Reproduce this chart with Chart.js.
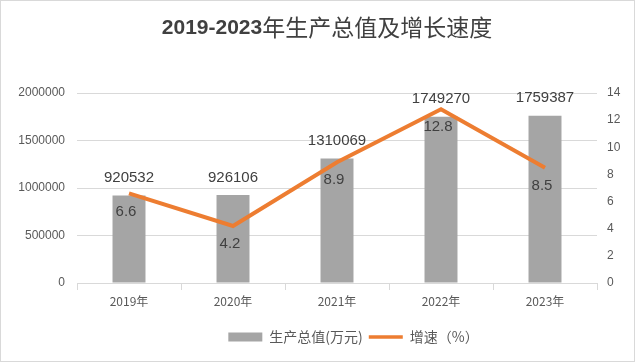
<!DOCTYPE html>
<html>
<head>
<meta charset="utf-8">
<script src="https://cdn.jsdelivr.net/npm/chart.js@4.4.0/dist/chart.umd.min.js"></script>
<style>
html,body{margin:0;padding:0;background:#fff;}
#wrap{position:relative;width:633px;height:360px;border:1px solid #d9d9d9;}
canvas{display:block;}
</style>
</head>
<body>
<div id="wrap"><canvas id="c" width="633" height="360"></canvas></div>
<script>
const categories = ['2019年','2020年','2021年','2022年','2023年'];
const outputValues = [920532, 926106, 1310069, 1749270, 1759387];
const growthRates = [6.6, 4.2, 8.9, 12.8, 8.5];
const leftTicks = [0, 500000, 1000000, 1500000, 2000000];
const rightTicks = [0, 2, 4, 6, 8, 10, 12, 14];
const titleYears = '2019-2023';
const titleText = '年生产总值及增长速度';

const FONT = '"Noto Sans CJK SC", "Liberation Sans", sans-serif';

const titlePlugin = {
  id: 'titleDraw',
  afterDraw(chart) {
    const ctx = chart.ctx;
    ctx.save();
    ctx.fillStyle = '#404040';
    ctx.textBaseline = 'middle';
    ctx.textAlign = 'left';
    const f1 = 'bold 21px "Liberation Sans", sans-serif';
    const f2 = '23px ' + FONT;
    ctx.font = f1; const w1 = ctx.measureText(titleYears).width;
    ctx.font = f2; const w2 = ctx.measureText(titleText).width;
    let x = 326 - (w1 + w2) / 2;
    ctx.font = f1; ctx.fillText(titleYears, x, 27);
    ctx.font = f2; ctx.fillText(titleText, x + w1, 26);
    ctx.restore();
  }
};

const labelPlugin = {
  id: 'valueLabels',
  afterDatasetsDraw(chart) {
    const ctx = chart.ctx;
    ctx.save();
    ctx.font = '15px "Liberation Sans", "Noto Sans CJK SC", sans-serif';
    ctx.fillStyle = '#404040';
    ctx.textAlign = 'center';
    const barMeta = chart.getDatasetMeta(0);
    barMeta.data.forEach((el, i) => {
      ctx.textBaseline = 'bottom';
      ctx.fillText(String(outputValues[i]), el.x, el.y - 10);
    });
    const lineMeta = chart.getDatasetMeta(1);
    lineMeta.data.forEach((el, i) => {
      ctx.textBaseline = 'middle';
      ctx.fillText(growthRates[i].toFixed(1), el.x - 3, el.y + 18);
    });
    ctx.restore();
  }
};

const legendShift = {
  id: 'legendShift',
  afterLayout(chart) {
    if (chart.legend) { chart.legend.left += 36; chart.legend.right += 36; }
  }
};

new Chart(document.getElementById('c'), {
  data: {
    labels: categories,
    datasets: [
      {
        type: 'bar',
        label: '生产总值(万元)',
        data: outputValues,
        backgroundColor: '#a5a5a5',
        yAxisID: 'y',
        categoryPercentage: 1,
        barPercentage: 0.317,
        order: 2
      },
      {
        type: 'line',
        label: '增速（%）',
        data: growthRates,
        borderColor: '#ed7d31',
        backgroundColor: '#ed7d31',
        borderWidth: 4,
        pointRadius: 0,
        tension: 0,
        yAxisID: 'y1',
        order: 1
      }
    ]
  },
  options: {
    responsive: false,
    animation: false,
    layout: { padding: { top: 92, bottom: 7, left: 0, right: 0 } },
    plugins: {
      title: { display: false },
      tooltip: { enabled: false },
      legend: {
        position: 'bottom',
        labels: {
          usePointStyle: true,
          pointStyleWidth: 34,
          boxHeight: 9,
          padding: 6,
          color: '#595959',
          font: { family: FONT, size: 14 },
          generateLabels(chart) {
            return chart.data.datasets.map((ds, i) => ({
              text: ds.label,
              fillStyle: ds.type === 'bar' ? '#a5a5a5' : '#ed7d31',
              strokeStyle: ds.type === 'bar' ? '#a5a5a5' : '#ed7d31',
              lineWidth: ds.type === 'bar' ? 0 : 3.5,
              pointStyle: ds.type === 'bar' ? 'rect' : 'line',
              fontColor: '#595959',
              datasetIndex: i,
              hidden: false
            }));
          }
        }
      }
    },
    scales: {
      x: {
        afterFit(scale) { scale.height = 41; },
        grid: { display: true, drawOnChartArea: false, drawTicks: true, tickLength: 7, color: '#d9d9d9', offset: true },
        border: { display: true, color: '#d9d9d9' },
        ticks: { color: '#595959', font: { family: FONT, size: 12 }, padding: 4 }
      },
      y: {
        position: 'left',
        min: 0, max: 2000000,
        afterBuildTicks(scale) { scale.ticks = leftTicks.map(v => ({ value: v })); },
        afterFit(scale) { scale.width = 76; },
        grid: { color: '#d9d9d9', drawTicks: false },
        border: { display: false },
        ticks: { color: '#595959', font: { family: '"Liberation Sans", sans-serif', size: 12 }, padding: 12, callback: v => String(v) }
      },
      y1: {
        position: 'right',
        min: 0, max: 14,
        afterBuildTicks(scale) { scale.ticks = rightTicks.map(v => ({ value: v })); },
        afterFit(scale) { scale.width = 37; },
        grid: { drawOnChartArea: false, drawTicks: false },
        border: { display: false },
        ticks: { color: '#595959', font: { family: '"Liberation Sans", sans-serif', size: 12 }, padding: 10 }
      }
    }
  },
  plugins: [titlePlugin, labelPlugin, legendShift]
});
</script>
</body>
</html>
